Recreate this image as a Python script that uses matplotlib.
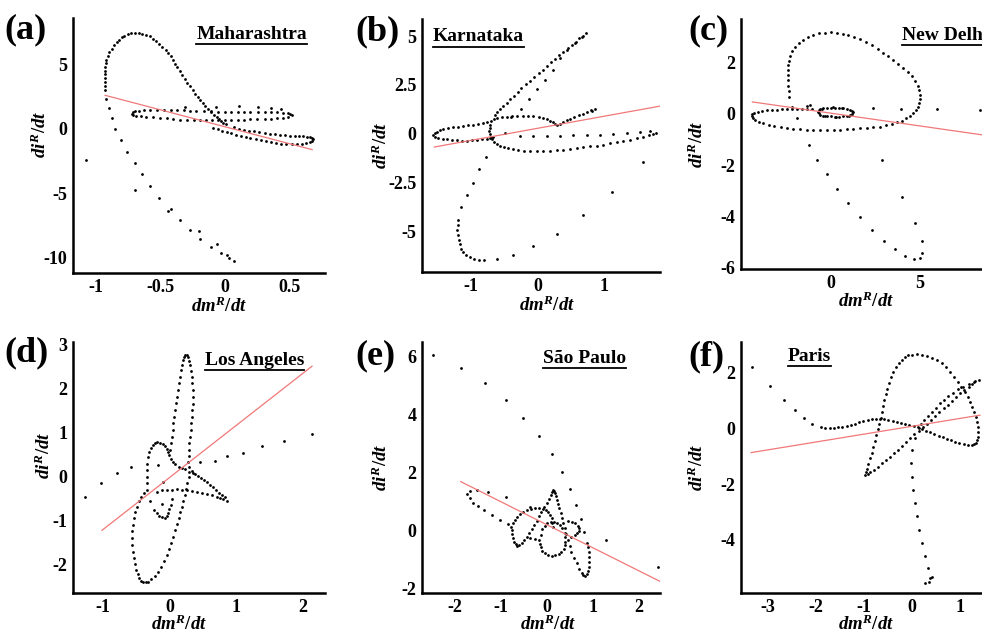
import numpy as np
import matplotlib
matplotlib.use('Agg')
import matplotlib.pyplot as plt
from matplotlib.lines import Line2D

plt.rcParams['font.family'] = 'Liberation Serif'
plt.rcParams['font.weight'] = 'bold'
plt.rcParams['axes.unicode_minus'] = False
plt.rcParams['mathtext.fontset'] = 'custom'
plt.rcParams['mathtext.it'] = 'Liberation Serif:italic:bold'
plt.rcParams['mathtext.rm'] = 'Liberation Serif:bold'
plt.rcParams['mathtext.bf'] = 'Liberation Serif:bold'

regions = ['Maharashtra', 'Karnataka', 'New Delhi', 'Los Angeles', 'S\u00e3o Paulo', 'Paris']
letters = ['(a)', '(b)', '(c)', '(d)', '(e)', '(f)']

# (dm/dt, di/dt) points
maharashtra = [
    (-0.93, 3.03), (-0.93, 3.33), (-0.93, 3.63), (-0.93, 3.93), (-0.93, 4.22), (-0.93, 4.50),
    (-0.93, 4.79), (-0.925, 5.07), (-0.92, 5.36), (-0.91, 5.66), (-0.90, 5.96), (-0.88, 6.23),
    (-0.86, 6.48), (-0.84, 6.71), (-0.82, 6.92), (-0.80, 7.09), (-0.78, 7.23), (-0.755, 7.33),
    (-0.73, 7.41), (-0.70, 7.44), (-0.67, 7.44), (-0.64, 7.39), (-0.61, 7.31), (-0.585, 7.17),
    (-0.56, 6.99), (-0.535, 6.81), (-0.51, 6.61), (-0.485, 6.38), (-0.46, 6.14), (-0.44, 5.88),
    (-0.42, 5.62), (-0.405, 5.33), (-0.39, 5.05), (-0.37, 4.77), (-0.35, 4.48), (-0.33, 4.19),
    (-0.31, 3.89), (-0.29, 3.59), (-0.27, 3.29), (-0.25, 3.00), (-0.23, 2.72), (-0.21, 2.46),
    (-0.19, 2.20), (-0.17, 1.97), (-0.15, 1.74), (-0.13, 1.52), (-0.11, 1.30), (-0.085, 1.10),
    (-0.06, 0.91), (-0.045, 0.75), (-0.03, 0.60), (-0.01, 0.47), (0.01, 0.34),
    (0.07, 0.13), (0.11, 0.02), (0.15, -0.08), (0.19, -0.15), (0.23, -0.21), (0.27, -0.28),
    (0.31, -0.34), (0.35, -0.39), (0.39, -0.44), (0.43, -0.48), (0.47, -0.52), (0.51, -0.55),
    (0.55, -0.57), (0.58, -0.59), (0.61, -0.60), (0.64, -0.62), (0.66, -0.65), (0.68, -0.72),
    (0.69, -0.80), (0.68, -0.92), (0.66, -1.01), (0.63, -1.10), (0.60, -1.17), (0.56, -1.19),
    (0.52, -1.20), (0.48, -1.18), (0.44, -1.15), (0.40, -1.08), (0.36, -1.00), (0.32, -0.93),
    (0.28, -0.85), (0.24, -0.78), (0.20, -0.70), (0.165, -0.63), (0.13, -0.55), (0.09, -0.45),
    (0.05, -0.35), (0.015, -0.25), (-0.02, -0.15), (-0.055, -0.05), (-0.09, 0.05),
    (0.49, 0.91), (0.45, 0.85), (0.41, 0.80), (0.36, 0.77), (0.31, 0.75), (0.25, 0.74),
    (0.20, 0.73), (0.15, 0.70), (0.10, 0.68), (0.05, 0.67), (0.00, 0.66), (-0.05, 0.65),
    (-0.10, 0.65), (-0.145, 0.65), (-0.19, 0.65), (-0.24, 0.66), (-0.29, 0.67), (-0.345, 0.71),
    (-0.40, 0.75), (-0.45, 0.80), (-0.50, 0.85), (-0.555, 0.89), (-0.61, 0.93), (-0.65, 0.97),
    (-0.69, 1.01), (-0.71, 1.09), (-0.72, 1.17), (-0.715, 1.27), (-0.70, 1.35), (-0.665, 1.39),
    (-0.63, 1.42), (-0.58, 1.45), (-0.53, 1.48), (-0.475, 1.49), (-0.42, 1.48), (-0.37, 1.45),
    (-0.32, 1.42), (-0.27, 1.39), (-0.22, 1.37), (-0.165, 1.36), (-0.11, 1.35), (-0.055, 1.33),
    (0.00, 1.32), (0.05, 1.32), (0.10, 1.32), (0.15, 1.32), (0.20, 1.32), (0.255, 1.31),
    (0.31, 1.30), (0.36, 1.29), (0.41, 1.27), (0.45, 1.25), (0.49, 1.22), (0.51, 1.16),
    (0.52, 1.09),
    (-0.31, 1.68), (-0.07, 1.68), (0.11, 1.74), (0.26, 1.68), (0.36, 1.63), (0.44, 1.55),
    (-0.92, 2.33), (-0.90, 1.63), (-0.88, 0.85), (-0.85, 0.00), (-0.81, -0.91), (-0.76, -1.81),
    (-0.70, -2.67), (-0.64, -3.55), (-0.58, -4.48), (-0.51, -5.36), (-0.42, -6.22), (-0.35, -7.07),
    (-0.27, -7.85), (-0.19, -8.55), (-0.11, -9.20), (-0.03, -9.66), (0.03, -10.03), (0.07, -10.23),
    (-1.08, -2.46), (-0.70, -4.72), (-0.44, -6.40), (-0.20, -7.90), (-0.06, -8.94), (0.02, -9.84),
]

karnataka = [
    (-1.56, -0.08), (-1.54, 0.02), (-1.51, 0.10), (-1.46, 0.17), (-1.41, 0.23), (-1.335, 0.28),
    (-1.26, 0.32), (-1.185, 0.36), (-1.11, 0.39), (-1.035, 0.43), (-0.96, 0.46), (-0.885, 0.51),
    (-0.81, 0.56), (-0.75, 0.61), (-0.69, 0.66),
    (-1.53, -0.15), (-1.49, -0.21), (-1.42, -0.26), (-1.36, -0.30), (-1.285, -0.33), (-1.21, -0.35),
    (-1.135, -0.36), (-1.06, -0.37), (-0.985, -0.35), (-0.91, -0.33), (-0.835, -0.30), (-0.76, -0.26),
    (-0.71, -0.21), (-0.66, -0.16),
    (-0.71, 0.44), (-0.715, 0.30), (-0.72, 0.15), (-0.71, 0.00), (-0.70, -0.16), (-0.68, -0.30),
    (-0.65, -0.42), (-0.61, -0.53), (-0.56, -0.63), (-0.50, -0.70), (-0.44, -0.76), (-0.36, -0.81),
    (-0.29, -0.85), (-0.20, -0.88), (-0.11, -0.90), (-0.01, -0.89), (0.09, -0.88), (0.19, -0.87),
    (0.29, -0.85), (0.39, -0.82), (0.49, -0.78), (0.59, -0.74), (0.69, -0.69), (0.79, -0.65),
    (0.89, -0.61), (0.99, -0.56), (1.09, -0.50), (1.19, -0.44), (1.29, -0.38), (1.39, -0.32),
    (1.49, -0.25), (1.58, -0.17), (1.67, -0.09), (1.73, -0.02), (1.78, 0.04),
    (1.69, 0.13), (1.54, 0.06), (1.34, 0.01), (1.14, -0.02), (0.94, -0.06), (0.74, -0.08),
    (0.54, -0.09), (0.34, -0.11), (0.14, -0.13), (-0.06, -0.14), (-0.26, -0.13), (-0.49, 0.04),
    (-0.65, 0.74), (-0.61, 0.80), (-0.535, 0.84), (-0.46, 0.87), (-0.385, 0.89), (-0.31, 0.90),
    (-0.22, 0.91), (-0.14, 0.90), (-0.06, 0.88), (0.02, 0.85), (0.08, 0.80), (0.14, 0.75),
    (0.19, 0.67), (0.23, 0.59), (0.27, 0.51), (0.30, 0.44), (0.345, 0.51), (0.39, 0.59),
    (0.44, 0.68), (0.49, 0.76), (0.555, 0.85), (0.62, 0.93), (0.68, 1.02), (0.74, 1.11),
    (0.80, 1.19), (0.87, 1.26), (0.82, 1.15),
    (-0.64, 0.95), (-0.60, 1.10), (-0.56, 1.24), (-0.51, 1.41), (-0.46, 1.58), (-0.405, 1.76),
    (-0.35, 1.94), (-0.29, 2.13), (-0.24, 2.32), (-0.17, 2.52), (-0.11, 2.71), (-0.045, 2.90),
    (0.02, 3.09), (0.08, 3.28), (0.14, 3.47), (0.205, 3.66), (0.27, 3.84), (0.33, 4.02),
    (0.39, 4.20), (0.455, 4.38), (0.52, 4.55), (0.575, 4.72), (0.63, 4.89), (0.68, 5.02),
    (0.73, 5.15), (0.67, 4.94), (0.57, 4.67), (0.45, 4.29), (0.34, 3.86), (0.23, 3.26),
    (0.12, 2.75), (0.00, 2.27), (-0.12, 1.77), (-0.25, 1.26), (-0.39, 0.83),
    (-0.77, -1.19), (-0.88, -1.84), (-0.97, -2.52), (-1.06, -3.16), (-1.14, -3.79), (-1.19, -4.44),
    (-1.19, -4.70), (-1.20, -4.96), (-1.19, -5.20), (-1.18, -5.44), (-1.165, -5.68), (-1.15, -5.90),
    (-1.11, -6.08), (-1.07, -6.24), (-1.01, -6.35), (-0.95, -6.43), (-0.875, -6.48), (-0.80, -6.50),
    (-0.60, -6.43), (-0.36, -6.24), (-0.06, -5.78), (0.29, -5.13), (0.68, -4.19), (1.12, -2.99),
    (1.59, -1.45),
]

new_delhi = [
    (-2.36, 0.67), (-2.38, 0.87), (-2.40, 1.08), (-2.42, 1.30), (-2.43, 1.51), (-2.42, 1.71),
    (-2.40, 1.90), (-2.36, 2.07), (-2.30, 2.23), (-2.18, 2.43), (-2.02, 2.61), (-1.80, 2.75),
    (-1.55, 2.87), (-1.27, 2.98), (-0.99, 3.07), (-0.67, 3.13), (-0.34, 3.16), (0.00, 3.17),
    (0.32, 3.16), (0.65, 3.12), (0.97, 3.07), (1.30, 2.99), (1.63, 2.90), (1.95, 2.80),
    (2.28, 2.68), (2.61, 2.54), (2.94, 2.38), (3.22, 2.24), (3.50, 2.10), (3.78, 1.94),
    (4.06, 1.77), (4.30, 1.61), (4.53, 1.45), (4.72, 1.27), (4.87, 1.09), (4.95, 0.91),
    (5.00, 0.73), (5.00, 0.57), (4.96, 0.41), (4.88, 0.28), (4.76, 0.15), (4.62, 0.03),
    (4.44, -0.09), (4.22, -0.18), (3.97, -0.27), (3.70, -0.34), (3.41, -0.40), (3.08, -0.45),
    (2.75, -0.50), (2.38, -0.53), (2.00, -0.55), (1.63, -0.57), (1.25, -0.59), (0.88, -0.61),
    (0.51, -0.62), (0.14, -0.63), (-0.24, -0.63), (-0.61, -0.63), (-0.99, -0.63), (-1.37, -0.62),
    (-1.74, -0.60), (-2.12, -0.58), (-2.49, -0.55), (-2.84, -0.52), (-3.18, -0.48), (-3.50, -0.43),
    (-3.80, -0.37), (-4.05, -0.31), (-4.27, -0.24), (-4.40, -0.17), (-4.46, -0.09), (-4.42, -0.02),
    (-4.31, 0.04), (-4.12, 0.08), (-3.90, 0.11), (-3.62, 0.13), (-3.33, 0.15), (-3.05, 0.16),
    (-2.77, 0.17), (-2.49, 0.18), (-2.21, 0.19), (-1.93, 0.19), (-1.65, 0.19), (-1.37, 0.18),
    (-1.09, 0.17),
    (-0.75, 0.07), (-0.70, 0.13), (-0.62, 0.18), (-0.50, 0.20), (-0.43, 0.21), (-0.24, 0.23),
    (0.00, 0.24), (0.10, 0.25), (0.22, 0.24), (0.45, 0.23), (0.60, 0.22), (0.69, 0.22),
    (0.90, 0.19), (1.07, 0.15), (1.18, 0.10), (1.25, 0.05), (1.18, 0.00), (1.07, -0.06),
    (1.00, -0.07), (0.88, -0.08), (0.69, -0.10), (0.45, -0.11), (0.30, -0.11), (0.22, -0.11),
    (0.00, -0.10), (-0.24, -0.09), (-0.35, -0.08), (-0.43, -0.07), (-0.62, -0.04), (-0.70, 0.01),
    (-1.37, 0.30), (-1.18, 0.32),
    (-2.21, 0.28), (-1.93, -0.18), (2.38, 0.21), (3.91, 0.19), (5.94, 0.17), (8.37, 0.15),
    (-1.24, -1.21), (-0.77, -1.80), (-0.24, -2.34), (0.34, -2.93), (0.97, -3.49), (1.63, -4.03),
    (2.28, -4.52), (2.96, -4.94), (3.60, -5.28), (4.16, -5.56), (4.68, -5.67), (5.00, -5.63),
    (5.13, -5.41), (5.09, -4.94), (4.72, -4.24), (4.01, -3.23), (2.88, -1.80),
]

los_angeles = [
    (0.01, 0.61), (0.02, 0.76), (0.04, 0.91), (0.05, 1.06), (0.06, 1.21), (0.075, 1.36),
    (0.09, 1.51), (0.105, 1.67), (0.12, 1.82), (0.135, 1.97), (0.15, 2.12), (0.16, 2.27),
    (0.18, 2.42), (0.19, 2.54), (0.20, 2.65), (0.215, 2.72), (0.24, 2.76), (0.26, 2.76),
    (0.28, 2.71), (0.295, 2.63), (0.31, 2.53), (0.325, 2.41), (0.34, 2.27), (0.345, 2.12),
    (0.35, 1.97), (0.35, 1.81), (0.35, 1.66), (0.345, 1.51), (0.34, 1.36), (0.325, 1.21),
    (0.32, 1.06), (0.305, 0.91), (0.30, 0.76), (0.29, 0.61), (0.29, 0.46), (0.285, 0.34),
    (0.29, 0.23), (0.29, 0.11), (0.30, 0.00),
    (0.26, -0.15), (0.245, -0.28), (0.23, -0.41), (0.205, -0.55), (0.19, -0.68), (0.16, -0.81),
    (0.14, -0.94), (0.11, -1.08), (0.09, -1.21), (0.055, -1.36), (0.02, -1.51), (-0.01, -1.64),
    (-0.04, -1.77), (-0.08, -1.91), (-0.12, -2.04), (-0.17, -2.16), (-0.22, -2.26), (-0.27, -2.33),
    (-0.32, -2.38), (-0.355, -2.40), (-0.39, -2.40), (-0.42, -2.36), (-0.45, -2.30), (-0.475, -2.21),
    (-0.50, -2.11), (-0.52, -1.98), (-0.54, -1.85), (-0.55, -1.70), (-0.56, -1.55), (-0.56, -1.40),
    (-0.56, -1.24), (-0.55, -1.09), (-0.54, -0.94), (-0.515, -0.81), (-0.49, -0.68), (-0.455, -0.56),
    (-0.42, -0.45), (-0.375, -0.37), (-0.33, -0.30),
    (-0.34, -0.15), (-0.34, 0.00), (-0.335, 0.15), (-0.33, 0.30), (-0.315, 0.44), (-0.30, 0.57),
    (-0.275, 0.65), (-0.25, 0.72), (-0.215, 0.76), (-0.18, 0.78), (-0.14, 0.77), (-0.10, 0.74),
    (-0.07, 0.70), (-0.04, 0.64), (-0.02, 0.57), (0.00, 0.49), (0.025, 0.41), (0.05, 0.34),
    (0.09, 0.28), (0.14, 0.23), (0.19, 0.20), (0.24, 0.17), (0.34, 0.14),
    (-0.29, -0.55), (-0.23, -0.75), (-0.19, -0.83), (-0.15, -0.89), (-0.11, -0.92), (-0.07, -0.93),
    (-0.04, -0.89), (-0.02, -0.83), (0.00, -0.74), (0.02, -0.64), (0.035, -0.50),
    (-0.19, -0.34), (-0.115, -0.31), (-0.04, -0.30), (0.035, -0.29), (0.11, -0.28), (0.185, -0.29),
    (0.26, -0.30), (0.335, -0.32), (0.41, -0.34), (0.485, -0.37), (0.56, -0.39), (0.635, -0.42),
    (0.71, -0.45), (0.76, -0.48), (0.81, -0.50), (0.86, -0.54), (0.83, -0.47), (0.785, -0.41),
    (0.745, -0.36), (0.70, -0.30), (0.655, -0.24), (0.61, -0.19), (0.565, -0.13), (0.52, -0.07),
    (0.48, -0.02), (0.435, 0.02), (0.39, 0.06), (0.35, 0.09),
    (-1.27, -0.47), (-1.03, -0.15), (-0.79, 0.08), (-0.58, 0.21), (-0.17, 0.26), (0.46, 0.34),
    (0.69, 0.36), (0.86, 0.46), (1.10, 0.55), (1.39, 0.69), (1.72, 0.82), (2.15, 0.97),
    (-0.09, -0.11), (-0.11, -0.61),
]

sao_paulo = [
    (-2.48, 6.04), (-1.87, 5.61), (-1.34, 5.09), (-0.89, 4.51), (-0.51, 3.89), (-0.17, 3.26),
    (0.10, 2.64), (0.32, 2.01), (0.50, 1.43), (0.63, 0.89), (0.73, 0.40), (0.81, -0.03),
    (1.28, -0.31), (2.41, -1.23),
    (-1.68, 1.37), (-1.73, 1.27), (-1.68, 1.12), (-1.60, 0.97), (-1.49, 0.84), (-1.36, 0.70),
    (-1.20, 0.53), (-1.02, 0.37), (-0.84, 0.24), (-1.52, 1.40), (-1.27, 1.34), (-0.89, 1.15),
    (-0.37, 0.83),
    (-0.77, 0.14), (-0.76, 0.01), (-0.75, -0.11), (-0.73, -0.24), (-0.71, -0.37), (-0.68, -0.46),
    (-0.64, -0.52), (-0.60, -0.50), (-0.55, -0.43), (-0.50, -0.32), (-0.44, -0.20), (-0.385, -0.08),
    (-0.33, 0.05), (-0.275, 0.20), (-0.22, 0.35), (-0.17, 0.51), (-0.12, 0.66), (-0.065, 0.80),
    (-0.01, 0.94), (0.035, 1.09), (0.08, 1.23), (0.11, 1.33), (0.14, 1.40), (0.16, 1.37),
    (0.18, 1.31), (0.20, 1.19), (0.22, 1.06), (0.245, 0.92), (0.27, 0.77), (0.295, 0.60),
    (0.32, 0.43), (0.35, 0.26), (0.38, 0.09), (0.415, -0.12), (0.45, -0.32), (0.49, -0.52),
    (0.53, -0.72), (0.585, -0.92), (0.64, -1.12), (0.70, -1.30), (0.75, -1.46), (0.785, -1.52),
    (0.82, -1.55), (0.86, -1.49), (0.89, -1.40), (0.91, -1.23), (0.92, -1.06), (0.91, -0.89),
    (0.90, -0.72), (0.88, -0.57), (0.86, -0.43),
    (-0.73, 0.26), (-0.69, 0.37), (-0.64, 0.48), (-0.59, 0.58), (-0.52, 0.65), (-0.44, 0.71),
    (-0.35, 0.75), (-0.26, 0.78), (-0.17, 0.78), (-0.08, 0.76), (-0.02, 0.71), (0.03, 0.65),
    (0.07, 0.54), (0.10, 0.43), (0.115, 0.28), (0.12, 0.14),
    (-0.17, -0.32), (-0.16, -0.45), (-0.14, -0.57), (-0.10, -0.68), (-0.05, -0.77), (0.02, -0.83),
    (0.10, -0.86), (0.18, -0.85), (0.25, -0.81), (0.31, -0.74), (0.36, -0.64), (0.385, -0.50),
    (0.40, -0.37), (0.395, -0.21), (0.38, -0.06), (0.33, 0.08), (0.28, 0.20), (0.22, 0.27),
    (0.15, 0.31), (0.08, 0.30), (0.01, 0.26), (-0.05, 0.16), (-0.10, 0.05), (-0.14, -0.14),
    (0.46, 0.34), (0.54, 0.31), (0.61, 0.26), (0.67, 0.18), (0.70, 0.09), (0.69, 0.00),
    (0.66, -0.09), (0.60, -0.15), (0.53, -0.20),
    (-0.37, -0.26), (-0.26, -0.27),
]

paris = [
    (-3.33, 2.20), (-2.95, 1.51), (-2.66, 1.01), (-2.43, 0.65), (-2.23, 0.36), (-2.07, 0.15),
    (-1.89, 0.03), (-1.80, 0.01), (-1.70, 0.01), (-1.62, 0.02), (-1.53, 0.03), (-1.44, 0.06),
    (-1.35, 0.09), (-1.27, 0.13), (-1.18, 0.17), (-1.10, 0.22), (-1.01, 0.26), (-0.92, 0.29),
    (-0.83, 0.32), (-0.75, 0.33), (-0.66, 0.33), (-0.57, 0.32), (-0.49, 0.30), (-0.40, 0.26),
    (-0.31, 0.22), (-0.23, 0.19), (-0.14, 0.15), (-0.05, 0.12), (0.04, 0.08), (0.12, 0.03),
    (0.21, -0.02), (0.30, -0.08), (0.38, -0.14), (0.47, -0.20), (0.56, -0.26), (0.645, -0.31),
    (0.73, -0.37), (0.82, -0.43), (0.90, -0.48), (0.99, -0.52), (1.08, -0.56), (1.165, -0.59),
    (1.25, -0.60), (1.30, -0.58), (1.33, -0.52), (1.36, -0.42), (1.37, -0.30), (1.375, -0.12),
    (1.37, 0.05), (1.36, 0.23), (1.34, 0.41), (1.30, 0.59), (1.26, 0.77), (1.21, 0.95),
    (1.16, 1.13), (1.10, 1.31), (1.03, 1.49), (0.96, 1.67), (0.88, 1.84), (0.80, 2.01),
    (0.71, 2.18), (0.62, 2.32), (0.52, 2.44), (0.42, 2.53), (0.31, 2.59), (0.205, 2.63),
    (0.10, 2.65), (0.01, 2.64), (-0.07, 2.61), (-0.14, 2.55), (-0.21, 2.46), (-0.27, 2.34),
    (-0.33, 2.20), (-0.38, 2.03), (-0.43, 1.84), (-0.47, 1.63), (-0.51, 1.42), (-0.54, 1.21),
    (-0.57, 1.01), (-0.60, 0.80), (-0.62, 0.59), (-0.65, 0.38), (-0.68, 0.17), (-0.71, -0.04),
    (-0.74, -0.24), (-0.77, -0.45), (-0.80, -0.66), (-0.835, -0.87), (-0.87, -1.08), (-0.90, -1.28),
    (-0.93, -1.47), (-0.95, -1.57), (-0.97, -1.67), (-0.92, -1.63), (-0.87, -1.58), (-0.79, -1.48),
    (-0.71, -1.37), (-0.625, -1.25), (-0.54, -1.13), (-0.455, -1.02), (-0.37, -0.90), (-0.29, -0.77),
    (-0.21, -0.63), (-0.125, -0.50), (-0.04, -0.36), (0.05, -0.22), (0.14, -0.09), (0.225, 0.04),
    (0.31, 0.17), (0.40, 0.30), (0.49, 0.44), (0.575, 0.58), (0.66, 0.71), (0.745, 0.85),
    (0.83, 0.98), (0.92, 1.12), (1.01, 1.25), (1.095, 1.37), (1.18, 1.49), (1.25, 1.59),
    (1.32, 1.69), (1.39, 1.72), (1.285, 1.65), (1.18, 1.58), (1.075, 1.49), (0.97, 1.39),
    (0.865, 1.27), (0.76, 1.15), (0.675, 1.02), (0.59, 0.89), (0.505, 0.74), (0.42, 0.59),
    (0.34, 0.44), (0.26, 0.29), (0.20, 0.15), (0.14, 0.00),
    (0.06, -0.36), (0.00, -0.78), (-0.01, -1.25), (0.00, -1.73), (0.02, -2.21),
    (0.06, -2.68), (0.10, -3.16), (0.15, -3.64), (0.21, -4.11), (0.28, -4.59), (0.33, -5.01),
    (0.38, -5.37), (0.36, -5.49), (0.28, -5.53), (0.42, -5.32),
]

# regression line: x from, x to, slope, intercept
fits = [(-0.93, 0.68, -2.62, 0.16), (-1.545, 1.84, 0.62, 0.27), (-4.42, 8.46, -0.0994, 0.02),
        (-1.015, 2.145, 1.18, -0.02), (-1.87, 2.45, -0.794, 0.205), (-3.34, 1.42, 0.282, 0.07)]

xticks = [[-1, -0.5, 0, 0.5], [-1, 0, 1], [0, 5], [-1, 0, 1, 2], [-2, -1, 0, 1, 2], [-3, -2, -1, 0, 1]]
yticks = [[-10, -5, 0, 5], [-5, -2.5, 0, 2.5, 5], [-6, -4, -2, 0, 2], [-2, -1, 0, 1, 2, 3],
          [-2, 0, 2, 4, 6], [-4, -2, 0, 2]]
xlims = [(-1.18, 0.78), (-1.73, 1.84), (-5.06, 8.48), (-1.45, 2.34), (-2.71, 2.45), (-3.55, 1.46)]
ylims = [(-11.2, 8.6), (-7.1, 5.88), (-6.05, 3.69), (-2.64, 3.06), (-2.14, 6.49), (-5.9, 3.09)]

datasets = [maharashtra, karnataka, new_delhi, los_angeles, sao_paulo, paris]

W, H = 982, 636
# axes boxes in pixels: left, top, right, bottom
boxes = [(73, 18, 325, 273), (422, 19, 660, 272), (741, 19, 982, 269),
         (73, 342, 325, 593), (422, 342, 660, 593), (741, 342, 982, 593)]
letter_pos = [(4, 30), (355, 32), (688, 31), (4, 353), (355, 356), (688, 357)]
title_pos = [(0.49, 0.937), (0.046, 0.93), (0.668, 0.936), (0.524, 0.928), (0.508, 0.936), (0.195, 0.944)]
ylab_pos = [(-0.09, 0.545), (-0.13, 0.50), (-0.14, 0.50), (-0.075, 0.55), (-0.13, 0.50), (-0.14, 0.50)]
xlab_pos = [(0.58, -0.092), (0.525, -0.092), (0.52, -0.092), (0.42, -0.088), (0.53, -0.088), (0.52, -0.088)]

fig = plt.figure(figsize=(W / 100, H / 100), dpi=100)
titles = []
for i in range(6):
    l, t, r, b = boxes[i]
    ax = fig.add_axes([l / W, 1 - b / H, (r - l) / W, (b - t) / H])
    pts = np.array(datasets[i])
    ax.plot(pts[:, 0], pts[:, 1], 'o', ms=2.0, color='black', mec='none')
    x0, x1, m, c = fits[i]
    fx = np.array([x0, x1])
    ax.plot(fx, m * fx + c, color='#f07878', lw=0.9)
    ax.set_xlim(xlims[i])
    ax.set_ylim(ylims[i])
    ax.set_xticks(xticks[i])
    ax.set_yticks(yticks[i])
    ax.set_xticklabels([('%g' % v) for v in xticks[i]])
    ax.set_yticklabels([('%g' % v) for v in yticks[i]])
    ax.tick_params(length=0, labelsize=13, pad=4)
    for s in ['top', 'right']:
        ax.spines[s].set_visible(False)
    for s in ['left', 'bottom']:
        ax.spines[s].set_linewidth(1.8)
    ax.set_xlabel(r'$dm^R/dt$', fontsize=13.5)
    ax.set_ylabel(r'$di^R/dt$', fontsize=13.5)
    ax.xaxis.set_label_coords(*xlab_pos[i])
    ax.yaxis.set_label_coords(*ylab_pos[i])
    tt = ax.text(title_pos[i][0], title_pos[i][1], regions[i], transform=ax.transAxes,
                 fontsize=14, fontweight='bold', ha='left', va='center', clip_on=False)
    titles.append(tt)
    fig.text(letter_pos[i][0] / W, 1 - letter_pos[i][1] / H, letters[i], fontsize=26,
             fontweight='bold', ha='left', va='center')

# underline the region names
fig.canvas.draw()
rend = fig.canvas.get_renderer()
for tt in titles:
    bb = tt.get_window_extent(rend)
    yl = (bb.y0 - 1.5) / H
    fig.add_artist(Line2D([bb.x0 / W, bb.x1 / W], [yl, yl], transform=fig.transFigure,
                          color='black', lw=1.3))

fig.savefig('out.png', dpi=100)
